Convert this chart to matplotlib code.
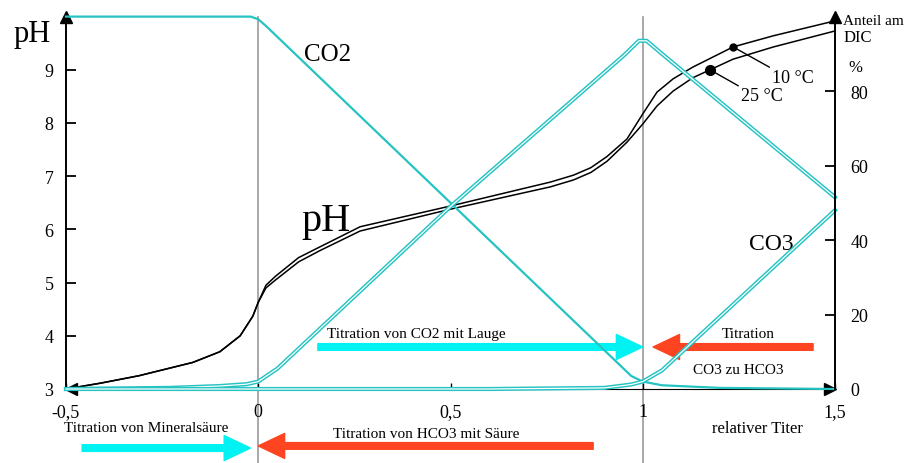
import matplotlib
matplotlib.use('Agg')
import matplotlib.pyplot as plt
import numpy as np

plt.rcParams['font.family'] = ['Liberation Serif', 'DejaVu Serif']

# Anteil am DIC (%) ueber relativem Titer
co2_x = [-0.5, -0.02, 0.0, 0.02, 0.5, 0.97, 1.0, 1.05, 1.2, 1.5]
co2 = [100, 100, 99.3, 97.5, 50, 3.5, 2, 1, 0.3, 0]
hco3_x = [-0.5, -0.23, -0.1, -0.03, 0.0, 0.05, 0.5, 0.95, 0.99, 1.01, 1.05, 1.5]
hco3 = [0, 0.3, 0.8, 1.3, 2, 5.5, 49, 89.5, 93.5, 93.5, 90, 51.5]
co3_x = [-0.5, 0.6, 0.9, 0.97, 1.0, 1.05, 1.5]
co3 = [0, 0, 0.3, 1.2, 2, 5, 48]

# pH-Kurven fuer 10 und 25 Grad
ph_x = [-0.5, -0.41, -0.31, -0.17, -0.10, -0.047, -0.014, 0.0, 0.02, 0.045,
        0.105, 0.16, 0.265, 0.5, 0.76, 0.82, 0.865, 0.907, 0.959, 1.0, 1.037, 1.079,
        1.13, 1.235, 1.34, 1.5]
ph_10 = [3.0, 3.11, 3.25, 3.5, 3.7, 4.0, 4.37, 4.63, 4.95, 5.12, 5.47, 5.67,
         6.05, 6.44, 6.89, 7.02, 7.16, 7.37, 7.70, 8.17, 8.58, 8.83, 9.05, 9.43, 9.64, 9.92]
ph_25 = [3.0, 3.11, 3.25, 3.5, 3.7, 4.0, 4.37, 4.63, 4.90, 5.05, 5.39, 5.60,
         5.97, 6.38, 6.80, 6.93, 7.07, 7.28, 7.64, 7.98, 8.32, 8.6, 8.85, 9.2, 9.43, 9.73]
mark_10 = 1.235
mark_25 = 1.175

x_ticks = [-0.5, 0, 0.5, 1, 1.5]
x_labels = ['-0,5', '0', '0,5', '1', '1,5']

cyan = '#26c3c3'
bright = '#00f2f2'
red = '#ff4422'

fig = plt.figure(figsize=(9.06, 4.64), dpi=100)
ax = fig.add_axes([66 / 906, 1 - 390 / 464, 769 / 906, 372.4 / 464])
ax.set_xlim(-0.5, 1.5)
ax.set_ylim(3, 10)
ax2 = ax.twinx()
ax2.set_ylim(0, 100)

for s in ['top', 'right']:
    ax.spines[s].set_visible(False)
for s in ['top', 'left', 'bottom']:
    ax2.spines[s].set_visible(False)
ax.spines['left'].set_linewidth(1.4)
ax2.spines['right'].set_linewidth(1.4)

ax.set_yticks(range(3, 10))
ax.tick_params(axis='y', direction='in', length=7, width=1.3, labelsize=13, pad=9)
ax.set_xticks(x_ticks)
ax.set_xticklabels(x_labels)
ax.tick_params(axis='x', direction='in', length=4, width=1, labelsize=13, pad=10)
ax2.set_yticks([0, 20, 40, 60, 80])
ax2.tick_params(axis='y', direction='in', length=7, width=1.3, labelsize=13, pad=11)

# senkrechte Linien bei Titer 0 und 1
for xv in (0, 1):
    ax.axvline(xv, ymin=-74 / 372.4, ymax=1, color='#999999', lw=1.2, clip_on=False, zorder=0)

# Speziesverteilung
ax2.plot(co2_x, co2, color=cyan, lw=1.6, clip_on=False)
for xs, ys in [(hco3_x, hco3), (co3_x, co3)]:
    ax2.plot(xs, ys, color=cyan, lw=3.0, clip_on=False)
    ax2.plot(xs, ys, color='white', lw=0.9, clip_on=False)

# pH
ax.plot(ph_x, ph_10, color='black', lw=1.1)
ax.plot(ph_x, ph_25, color='black', lw=1.1)
ax.plot(mark_10, np.interp(mark_10, ph_x, ph_10), 'o', color='black', ms=5)
ax.plot(mark_25, np.interp(mark_25, ph_x, ph_25), 'o', color='black', ms=7)
ax.annotate('10 °C', xy=(mark_10, np.interp(mark_10, ph_x, ph_10)), xytext=(1.391, 8.86),
            ha='center', va='center', fontsize=13,
            arrowprops=dict(arrowstyle='-', color='black', lw=1, shrinkA=0, shrinkB=0, relpos=(0, 1)))
ax.annotate('25 °C', xy=(mark_25, np.interp(mark_25, ph_x, ph_25)), xytext=(1.310, 8.51),
            ha='center', va='center', fontsize=13,
            arrowprops=dict(arrowstyle='-', color='black', lw=1, shrinkA=0, shrinkB=0, relpos=(0, 1)))

# Achsenpfeile
ax.plot([0], [1], marker='^', color='black', ms=9, transform=ax.transAxes, clip_on=False)
ax.plot([1], [1], marker='^', color='black', ms=9, transform=ax.transAxes, clip_on=False)
ax.plot([0.993], [0], marker='>', color='black', ms=9, transform=ax.transAxes, clip_on=False)
ax.plot([0.006], [0], marker='<', color='black', ms=9, transform=ax.transAxes, clip_on=False)

# Beschriftungen
ax.text(-0.588, 9.69, 'pH', fontsize=22, ha='center', va='center')
ax.text(0.179, 9.30, 'CO2', fontsize=18, ha='center', va='center')
ax.text(0.175, 6.16, 'pH', fontsize=29, ha='center', va='center')
ax.text(1.334, 5.73, 'CO3', fontsize=17, ha='center', va='center')
ax.text(1.599, 9.92, 'Anteil am', fontsize=11, ha='center', va='center')
ax.text(1.523, 9.62, 'DIC', fontsize=12, ha='left', va='center')
ax.text(1.552, 9.05, '%', fontsize=12, ha='center', va='center')
ax.text(1.297, 2.27, 'relativer Titer', fontsize=12, ha='center', va='center')
ax.text(-0.292, 2.27, 'Titration von Mineralsäure', fontsize=11, ha='center', va='center')
ax.text(0.436, 2.17, 'Titration von HCO3 mit Säure', fontsize=11, ha='center', va='center')
ax.text(0.410, 4.05, 'Titration von CO2 mit Lauge', fontsize=11, ha='center', va='center')
ax.text(1.274, 4.05, 'Titration', fontsize=11, ha='center', va='center')
ax.text(1.248, 3.36, 'CO3 zu HCO3', fontsize=11, ha='center', va='center')


def pfeil(x0, x1, y, color):
    ax.annotate('', xy=(x1, y), xytext=(x0, y), annotation_clip=False,
                arrowprops=dict(arrowstyle='simple,head_length=0.95,head_width=0.9,tail_width=0.24',
                                mutation_scale=20, color=color, shrinkA=0, shrinkB=0))


pfeil(-0.458, -0.02, 1.89, bright)
pfeil(0.871, 0.0, 1.93, red)
pfeil(0.155, 1.0, 3.79, bright)
pfeil(1.443, 1.027, 3.79, red)

fig.savefig('out.png', dpi=100)
